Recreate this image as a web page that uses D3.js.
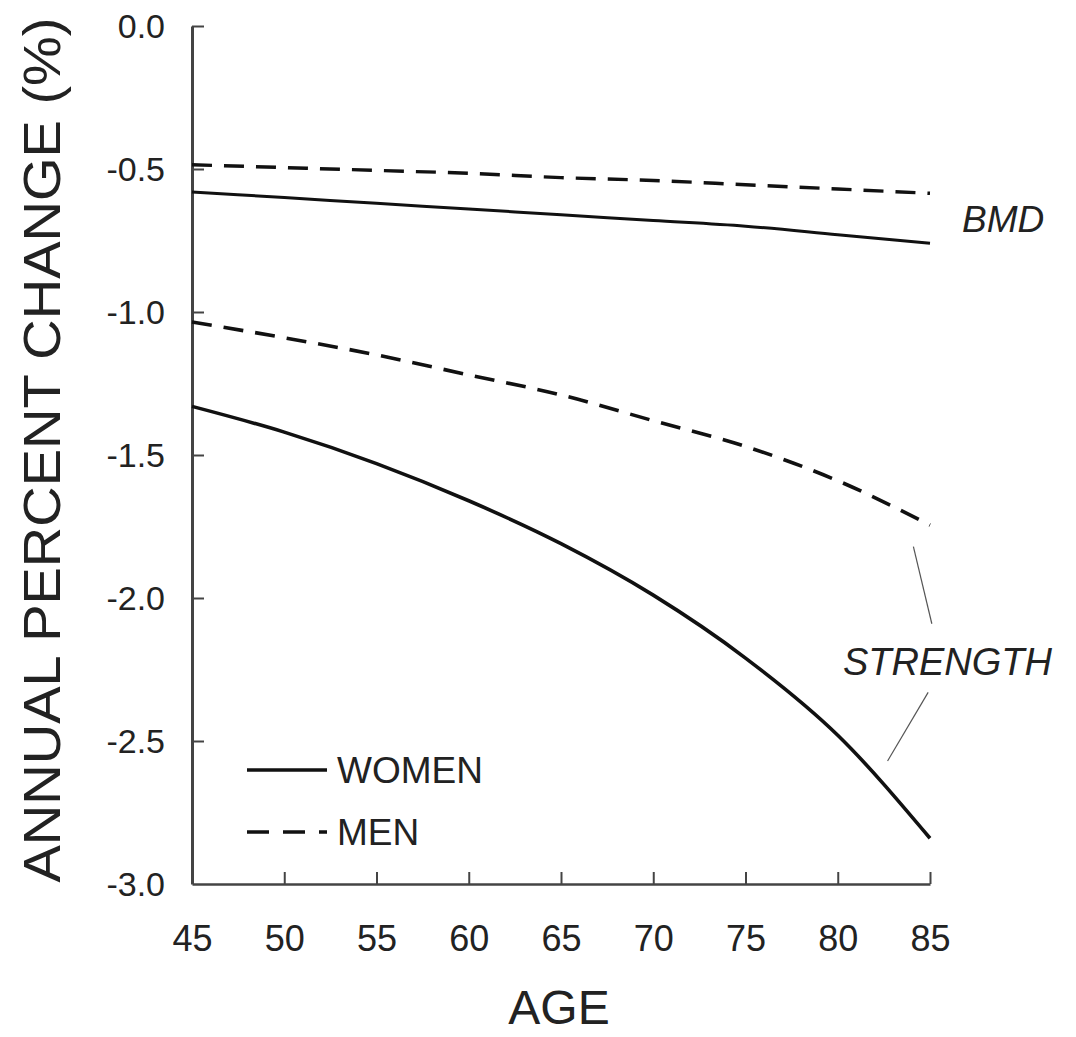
<!DOCTYPE html>
<html>
<head>
<meta charset="utf-8">
<script src="https://cdn.jsdelivr.net/npm/d3@7"></script>
<style>
    body { margin: 0; background: #fff; }
    svg text { font-family: "Liberation Sans", Arial, Helvetica, sans-serif; fill: #222; }
    .axis path, .axis line { stroke: #444; }
    .axis text { fill: #222; }
</style>
</head>
<body>
<div id="chart"></div>
<script>
// ages on the x axis
var ages = [45, 50, 55, 60, 65, 70, 75, 80, 85];
var yTicks = [0, -0.5, -1.0, -1.5, -2.0, -2.5, -3.0];

// annual percent change
var bmdWomen = [-0.58, -0.60, -0.62, -0.64, -0.66, -0.68, -0.70, -0.73, -0.76];
var bmdMen = [-0.485, -0.495, -0.505, -0.515, -0.53, -0.54, -0.555, -0.57, -0.585];
var strengthWomen = [-1.33, -1.42, -1.53, -1.66, -1.81, -1.99, -2.21, -2.48, -2.84];
var strengthMen = [-1.035, -1.09, -1.15, -1.22, -1.29, -1.38, -1.47, -1.59, -1.745];

var legendItems = ['WOMEN', 'MEN'];

// leader lines from the STRENGTH label (age, value)
var leaderTop = [[84.1, -1.82], [85.1, -2.09]];
var leaderBottom = [[84.9, -2.33], [82.7, -2.57]];

var	margin = {top: 26, right: 146, bottom: 153, left: 192},
    width = 1076 - margin.left - margin.right,
    height = 1037 - margin.top - margin.bottom;

var	x = d3.scaleLinear().domain([45, 85]).range([0, width]);
var	y = d3.scaleLinear().domain([-3, 0]).range([height, 0]);

var	svg = d3.select("#chart")
    .append("svg")
        .attr("width", 1076)
        .attr("height", 1037)
    .append("g")
        .attr("transform", "translate(" + margin.left + "," + margin.top + ")");

// axes, ticks point inward
var xAxis = d3.axisBottom(x).tickValues(ages).tickSize(-12).tickSizeOuter(0).tickPadding(41);
var yAxis = d3.axisLeft(y).tickValues(yTicks).tickSize(-12).tickSizeOuter(0).tickPadding(27);

var gx = svg.append("g")
    .attr("class", "x axis")
    .attr("transform", "translate(0," + height + ")")
    .call(xAxis);
gx.select(".domain").attr("stroke-width", 2.5);
gx.selectAll(".tick line").attr("stroke-width", 2);
gx.selectAll("text").style("font-size", "36px").attr("dy", "0.71em");
gx.selectAll(".tick").filter(function(d) { return d === 45; }).select("line").remove();

var gy = svg.append("g")
    .attr("class", "y axis")
    .call(yAxis);
gy.select(".domain").attr("stroke", "#666").attr("stroke-width", 3);
gy.selectAll(".tick line").attr("stroke-width", 2);
// plain hyphen for the minus sign, as in the figure
gy.selectAll("text").style("font-size", "34px").attr("dy", "0.35em")
    .text(function(d) { return d === 0 ? "0.0" : "-" + Math.abs(d).toFixed(1); });
gy.selectAll(".tick").filter(function(d) { return d === -3; }).select("line").remove();

// the four curves
var valueline = d3.line()
    .x(function(d) { return x(d[0]); })
    .y(function(d) { return y(d[1]); })
    .curve(d3.curveMonotoneX);

function pairs(vals) {
    return ages.map(function(a, i) { return [a, vals[i]]; });
}

var series = [
    {vals: bmdWomen, dash: null, w: 3},
    {vals: bmdMen, dash: "20,12", w: 3.4},
    {vals: strengthWomen, dash: null, w: 3.6},
    {vals: strengthMen, dash: "20,12", w: 3.6}
];

series.forEach(function(s) {
    svg.append("path")
        .attr("fill", "none")
        .attr("stroke", "#111")
        .attr("stroke-width", s.w)
        .attr("stroke-dasharray", s.dash)
        .attr("d", valueline(pairs(s.vals)));
});

// labels on the right
svg.append("text")
    .attr("x", x(85) + 32)
    .attr("y", y(-0.72))
    .style("font-size", "37px")
    .style("font-style", "italic")
    .text("BMD");

svg.append("text")
    .attr("x", x(85) - 87)
    .attr("y", y(-2.27))
    .style("font-size", "38px")
    .style("font-style", "italic")
    .text("STRENGTH");

[leaderTop, leaderBottom].forEach(function(l) {
    svg.append("line")
        .attr("x1", x(l[0][0])).attr("y1", y(l[0][1]))
        .attr("x2", x(l[1][0])).attr("y2", y(l[1][1]))
        .attr("stroke", "#555")
        .attr("stroke-width", 1.2);
});

// legend
var legend = svg.append("g")
    .attr("transform", "translate(55," + (y(-2.5) + 29) + ")");

legendItems.forEach(function(name, i) {
    var row = legend.append("g").attr("transform", "translate(0," + (i * 62) + ")");
    row.append("line")
        .attr("x1", 0).attr("x2", 80)
        .attr("y1", 0).attr("y2", 0)
        .attr("stroke", "#111")
        .attr("stroke-width", 3.4)
        .attr("stroke-dasharray", i === 1 ? "22,14" : null);
    row.append("text")
        .attr("x", 90)
        .attr("y", 13)
        .style("font-size", "37px")
        .text(name);
});

// axis titles
svg.append("text")
    .attr("x", width / 2 - 2)
    .attr("y", height + 140)
    .attr("text-anchor", "middle")
    .style("font-size", "48px")
    .text("AGE");

svg.append("text")
    .attr("transform", "rotate(-90)")
    .attr("x", -height / 2 + 5)
    .attr("y", -132)
    .attr("text-anchor", "middle")
    .attr("textLength", 865)
    .attr("lengthAdjust", "spacingAndGlyphs")
    .style("font-size", "52px")
    .text("ANNUAL PERCENT CHANGE (%)");
</script>
</body>
</html>
